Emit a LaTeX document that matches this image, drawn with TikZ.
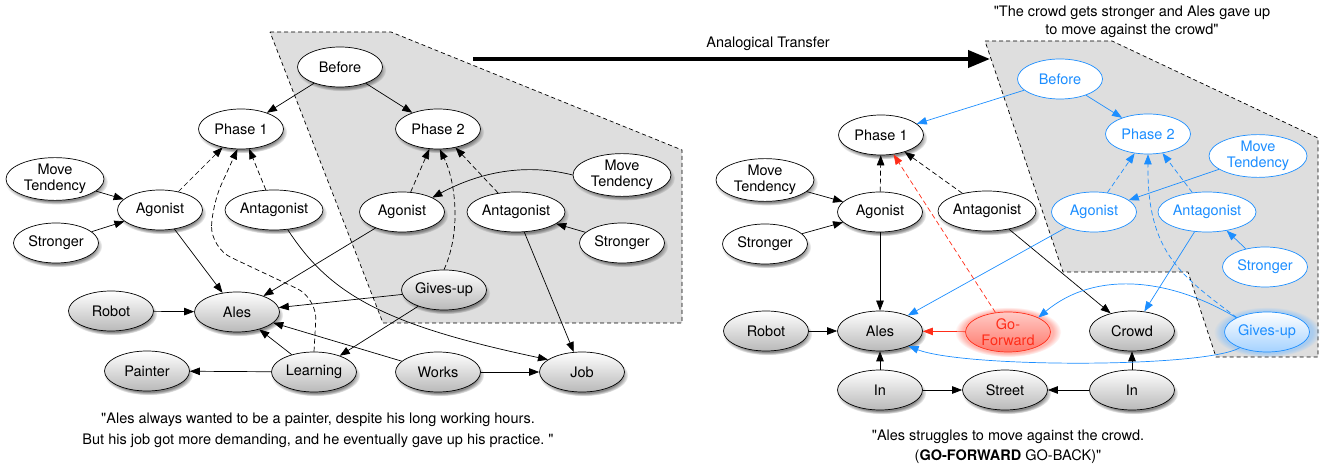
\documentclass[tikz,border=0pt]{standalone}
\usepackage{fontspec}
\newfontfamily\heros{TeX Gyre Heros}
\usepackage{xcolor}
\usepackage{tikz}
\usetikzlibrary{arrows.meta,shapes.geometric,shadows,fadings}

\definecolor{fdblue}{RGB}{28,142,255}
\definecolor{fdred}{RGB}{255,45,25}

\begin{document}
\begin{tikzpicture}[
      x=1pt, y=-1pt,
      every node/.style={font=\heros\fontsize{14.5}{16.5}\selectfont},
      basenode/.style={
         ellipse,
         draw=black,
         line width=0.7pt,
         inner sep=0pt,
         minimum width=85pt,
         minimum height=40pt,
         align=center},
      shadowed/.style={
         circular drop shadow={shadow xshift=1.5pt, shadow yshift=-3pt,
                               shadow scale=1.05, opacity=0.7, fill=black!65}},
      concept/.style={basenode, shadowed, fill=white},
      entity/.style={basenode, shadowed, top color=white, bottom color=gray!55},
      mapped/.style={basenode, draw=fdblue, text=fdblue, fill=white},
      mappedact/.style={basenode, draw=fdblue, text=fdblue,
                        top color=white, bottom color=fdblue!40,
                        circular glow={fill=fdblue!60, opacity=0.5}},
      inferred/.style={basenode, draw=fdred, text=fdred,
                       top color=fdred!25, bottom color=fdred!65,
                       circular glow={fill=fdred!70, opacity=0.5}},
      wide/.style={minimum width=98pt},
      myarrow/.style={-{Triangle[length=10pt,width=7.5pt]}, line width=0.7pt},
      mydash/.style={myarrow, dash pattern=on 5pt off 3pt},
      region/.style={draw=black, line width=0.7pt, dash pattern=on 4pt off 3pt, fill=black!13}
      ]
\useasboundingbox (0,0) rectangle (1323,470);

% transferred parts
\draw[region] (270,32) -- (391,32) -- (682,150) -- (682,323) -- (383,323) -- cycle;
\draw[region] (985,41) -- (1112,41) -- (1318,138) -- (1318,357) -- (1216,357)
              -- (1188,272) -- (1063,272) -- cycle;

% source story
\node[concept          ] (bef) at (340,67)  {Before};
\node[concept          ] (ph1) at (241,129) {Phase 1};
\node[concept          ] (ph2) at (438,129) {Phase 2};
\node[concept,wide     ] (mt1) at (55,179)  {Move\\Tendency};
\node[concept          ] (ag1) at (160,210) {Agonist};
\node[concept          ] (st1) at (56,243)  {Stronger};
\node[concept,wide     ] (an1) at (274,210) {Antagonist};
\node[concept          ] (ag2) at (402,212) {Agonist};
\node[concept,wide     ] (an2) at (516,212) {Antagonist};
\node[concept,wide     ] (mt2) at (622,175) {Move\\Tendency};
\node[concept          ] (st2) at (622,243) {Stronger};
\node[entity           ] (giv) at (444,290) {Gives-up};
\node[entity           ] (rob) at (111,311) {Robot};
\node[entity           ] (ale) at (237,312) {Ales};
\node[entity           ] (pai) at (147,371) {Painter};
\node[entity           ] (lea) at (314,372) {Learning};
\node[entity           ] (wor) at (438,372) {Works};
\node[entity           ] (job) at (582,372) {Job};

% target story
\node[concept          ] (rph1) at (881,135)  {Phase 1};
\node[mapped           ] (rbef) at (1060,79)  {Before};
\node[mapped           ] (rph2) at (1148,134) {Phase 2};
\node[mapped,wide      ] (rmt2) at (1258,156) {Move\\Tendency};
\node[mapped           ] (rag2) at (1094,212) {Agonist};
\node[mapped,wide      ] (ran2) at (1207,212) {Antagonist};
\node[mapped           ] (rst2) at (1265,267) {Stronger};
\node[mappedact        ] (rgiv) at (1267,332) {Gives-up};
\node[concept,wide     ] (rmt1) at (765,180)  {Move\\Tendency};
\node[concept          ] (rag1) at (880,212)  {Agonist};
\node[concept          ] (rst1) at (765,244)  {Stronger};
\node[concept,wide     ] (ran1) at (987,211)  {Antagonist};
\node[entity           ] (rrob) at (766,331)  {Robot};
\node[entity           ] (rale) at (880,331)  {Ales};
\node[inferred         ] (rgo)  at (1008,332) {Go-\\Forward};
\node[entity           ] (rcro) at (1132,331) {Crowd};
\node[entity           ] (rin1) at (880,390)  {In};
\node[entity           ] (rstr) at (1005,390) {Street};
\node[entity           ] (rin2) at (1132,390) {In};

\foreach \i/\j in {% start node/end node
      bef/ph1,bef/ph2,mt1/ag1,st1/ag1,ag1/ale,ag2/ale,giv/ale,giv/lea,
      lea/ale,wor/ale,lea/pai,wor/job,an2/job,rob/ale,st2/an2,
      rmt1/rag1,rst1/rag1,rag1/rale,ran1/rcro,rrob/rale,
      rin1/rale,rin1/rstr,rin2/rstr,rin2/rcro}
       \draw[myarrow] (\i) -- (\j);

\foreach \i/\j in {ag1/ph1,an1/ph1,ag2/ph2,an2/ph2,rag1/rph1,ran1/rph1}
       \draw[mydash] (\i) -- (\j);

\foreach \i/\j in {rbef/rph1,rbef/rph2,rmt2/rag2,rst2/ran2,rag2/rale,ran2/rcro}
       \draw[myarrow,fdblue] (\i) -- (\j);

\foreach \i/\j in {rag2/rph2,ran2/rph2}
       \draw[mydash,fdblue] (\i) -- (\j);

\draw[myarrow,fdred] (rgo) -- (rale);
\draw[mydash,fdred] (rgo) -- (rph1);

% bent links
\draw[myarrow] (an1.-55) .. controls (330,295) and (385,325) .. (job.160);
\draw[myarrow] (mt2.west) .. controls (525,163) and (480,172) .. (ag2.north east);
\draw[mydash,rounded corners=22pt] (lea.north) -- (317,298) -- (211,248)
      -- (212,205) -- (ph1.-100);
\draw[mydash] (giv.north) .. controls (462,230) and (455,180) .. (ph2.-85);
\draw[mydash,fdblue] (rgiv.north west) .. controls (1180,275) and (1147,252) .. (rph2.south);
\draw[myarrow,fdblue] (rgiv.155) .. controls (1170,278) and (1095,270) .. (rgo.north east);
\draw[myarrow,fdblue] (rgiv.-150) .. controls (1205,368) and (965,368) .. (rale.-28);

% transfer
\coordinate (tfrom) at (473,59);
\coordinate (tto)   at (990,59);
\draw[-{Triangle[length=22pt,width=17pt]}, line width=4pt] (tfrom) -- (tto);
\node (tlabel) at (768,44) {Analogical Transfer};

% stories
\node[align=center, font=\heros\fontsize{14.5}{18.5}\selectfont] (tq) at (1132,22)
      {"The crowd gets stronger and Ales gave up\\to move against the crowd"};
\node[align=center, font=\heros\fontsize{14.5}{21}\selectfont] (lq) at (318,430)
      {"Ales always wanted to be a painter, despite his long working hours.\\
       But his job got more demanding, and he eventually gave up his practice.\ "};
\node[align=center, font=\heros\fontsize{14.5}{20}\selectfont] (rq) at (1008,447)
      {"Ales struggles to move against the crowd.\\(\textbf{GO-FORWARD} GO-BACK)"};

\end{tikzpicture}
\end{document}
